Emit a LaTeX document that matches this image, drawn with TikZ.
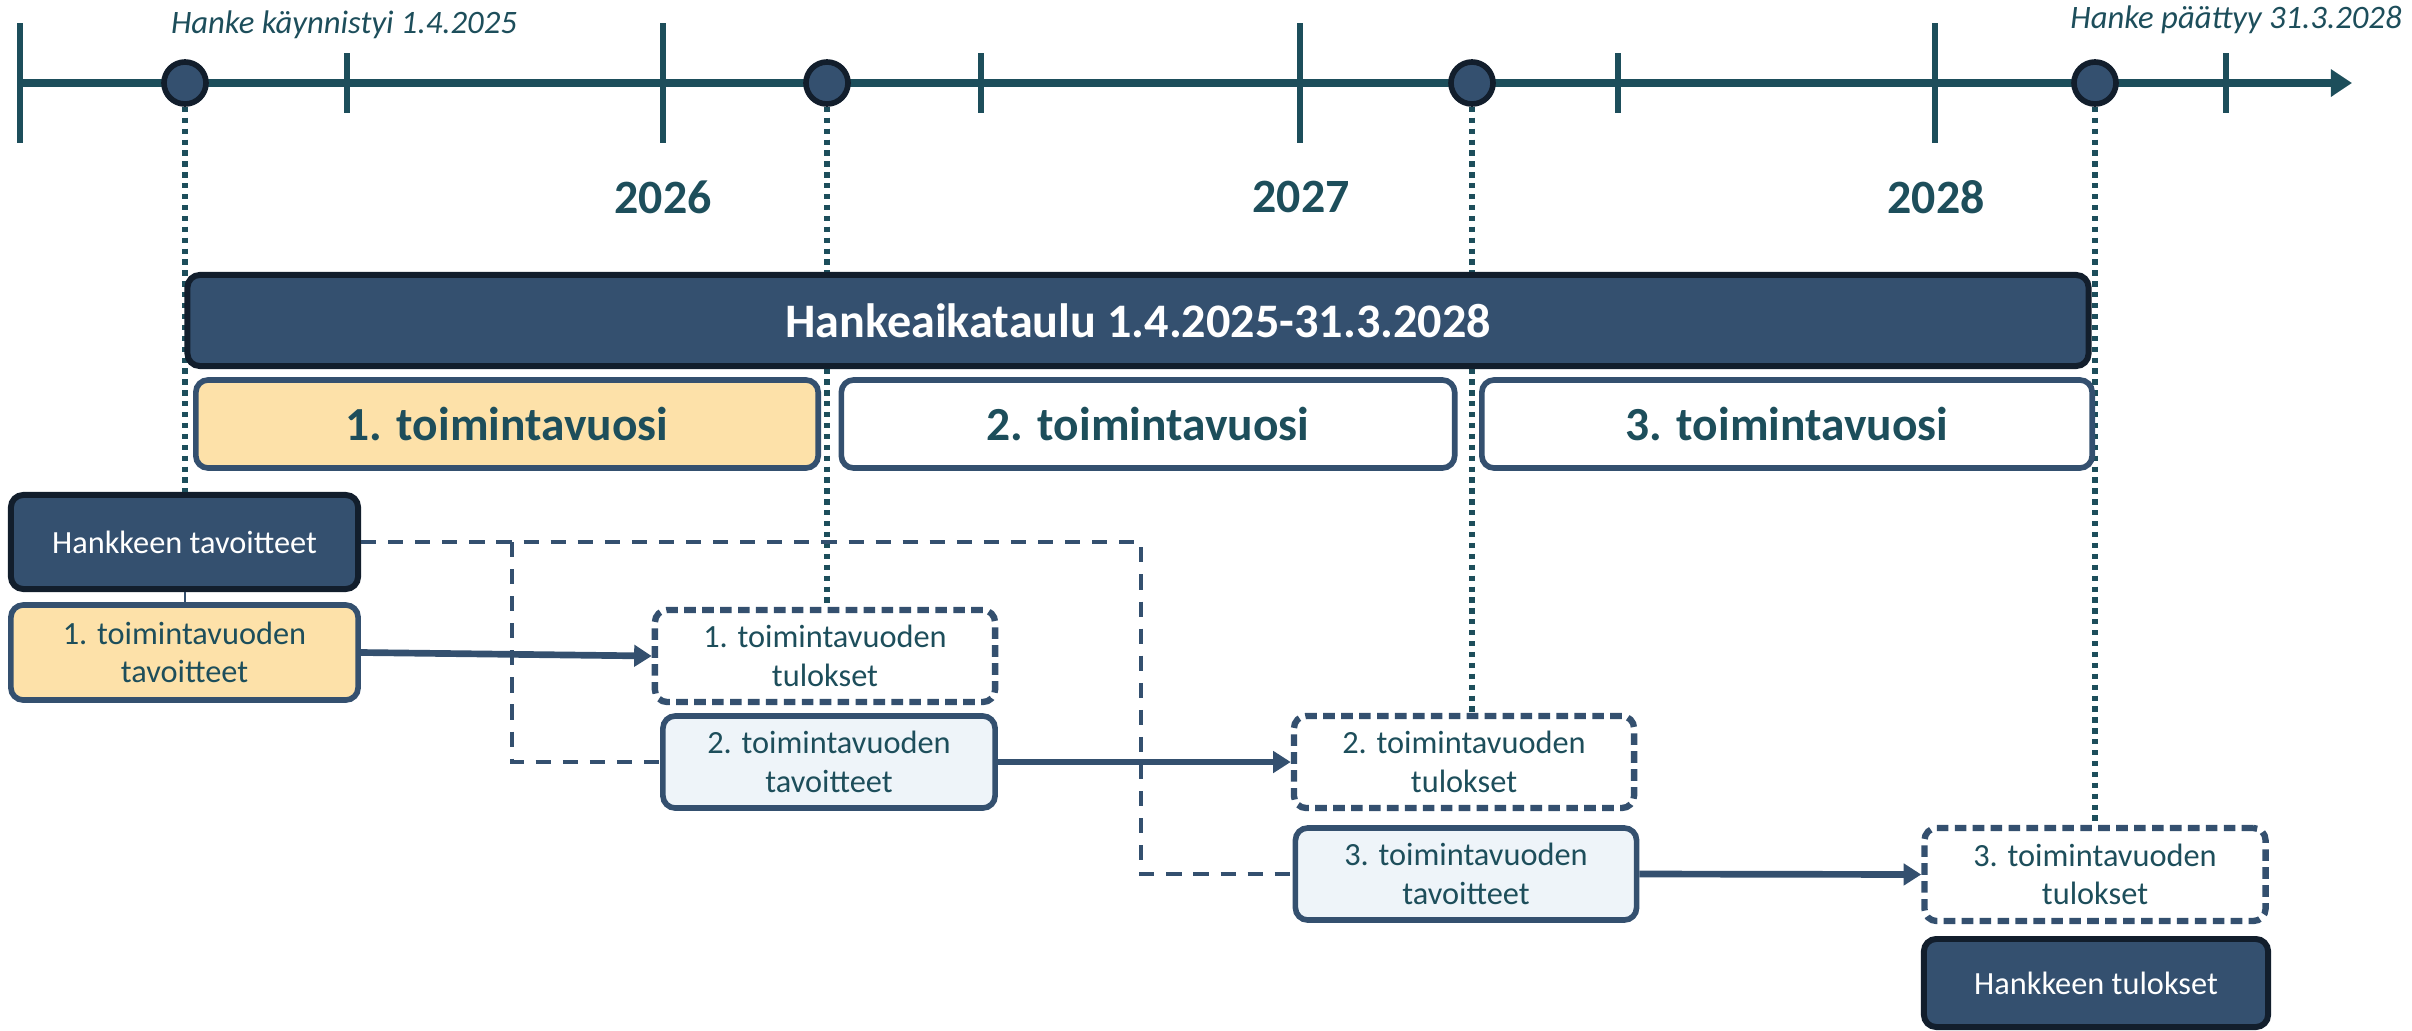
\documentclass[tikz,border=0pt]{standalone}
\usepackage{fontspec}
\setmainfont{Carlito}
\usetikzlibrary{arrows.meta}

\definecolor{tealline}{HTML}{1D4E5B}
\definecolor{navy}{HTML}{34506F}
\definecolor{navyedge}{HTML}{121E2C}
\definecolor{peach}{HTML}{FDE1A9}
\definecolor{paleblue}{HTML}{EEF4F9}

\begin{document}
\begin{tikzpicture}[x=0.01cm, y=-0.01cm]
  \tikzstyle{every node}=[font=\fontsize{9.2}{10.9}\selectfont, text=tealline,
    align=center, inner sep=0pt]
  \tikzstyle{darkbox}=[draw=navyedge, fill=navy, line width=1.7pt,
    rounded corners=3.5pt, text=white]
  \tikzstyle{goalbox}=[draw=navy, line width=1.6pt, rounded corners=3.5pt]
  \tikzstyle{resultbox}=[goalbox, fill=white, line width=1.8pt,
    dash pattern=on 3.3pt off 1.8pt]
  \tikzstyle{yearbox}=[goalbox, minimum height=0.88cm,
    font=\fontsize{13.5}{16}\selectfont\bfseries]
  \tikzstyle{milestone}=[circle, draw=navyedge, fill=navy, line width=1.6pt,
    minimum size=0.42cm]
  \tikzstyle{yeartick}=[draw=tealline, line width=1.5pt]
  \tikzstyle{guideline}=[draw=tealline, line width=1.7pt,
    dash pattern=on 1.5pt off 1.6pt]
  \tikzstyle{goallink}=[draw=navy, line width=1.4pt,
    dash pattern=on 4.3pt off 3.4pt]
  \tikzstyle{flowarrow}=[draw=navy, line width=1.9pt,
    -{Triangle[length=5pt,width=6pt]}]

  \useasboundingbox (0,0) rectangle (2412,1030);

  % aikajana
  \coordinate (start) at (20,83);
  \coordinate (end) at (2352,83);
  \draw[draw=tealline, line width=2.4pt, -{Triangle[length=6pt,width=7.5pt]}]
    (start) -- (end);
  \foreach \x in {20,663,1300,1935}
    \draw[yeartick] (\x,23) -- (\x,143);
  \foreach \x in {347,981,1618,2226}
    \draw[yeartick] (\x,53) -- (\x,113);
  \foreach \x/\n in {185/m0,827/m1,1472/m2,2095/m3}
    \node[milestone] (\n) at (\x,83) {};

  \node[font=\fontsize{9.3}{11}\selectfont\itshape] (alku) at (344,25)
    {Hanke käynnistyi 1.4.2025};
  \node[font=\fontsize{9.3}{11}\selectfont\itshape] (loppu) at (2236,20)
    {Hanke päättyy 31.3.2028};

  \node[font=\fontsize{13.6}{16}\selectfont\bfseries] (v26) at (663,197) {2026};
  \node[font=\fontsize{13.6}{16}\selectfont\bfseries] (v27) at (1301,197) {2027};
  \node[font=\fontsize{13.6}{16}\selectfont\bfseries] (v28) at (1936,197) {2028};

  % tavoitteet ja tulokset
  \node[darkbox, minimum width=3.47cm, minimum height=0.94cm] (tav0)
    at (184.5,542) {Hankkeen tavoitteet};
  \node[goalbox, fill=peach, minimum width=3.47cm, minimum height=0.95cm] (tav1)
    at (184.5,652.5) {1. toimintavuoden\\tavoitteet};
  \node[resultbox, minimum width=3.40cm, minimum height=0.92cm] (tul1)
    at (825,656) {1. toimintavuoden\\tulokset};
  \node[goalbox, fill=paleblue, minimum width=3.32cm, minimum height=0.92cm] (tav2)
    at (829,762) {2. toimintavuoden\\tavoitteet};
  \node[resultbox, minimum width=3.40cm, minimum height=0.92cm] (tul2)
    at (1464,762) {2. toimintavuoden\\tulokset};
  \node[goalbox, fill=paleblue, minimum width=3.41cm, minimum height=0.92cm] (tav3)
    at (1466,874) {3. toimintavuoden\\tavoitteet};
  \node[resultbox, minimum width=3.41cm, minimum height=0.93cm] (tul3)
    at (2095,874.5) {3. toimintavuoden\\tulokset};
  \node[darkbox, minimum width=3.44cm, minimum height=0.88cm] (res)
    at (2096,983) {Hankkeen tulokset};

  % pystyviivat
  \draw[guideline] (m0.south) -- (m0 |- tav0.north);
  \draw[guideline] (m1.south) -- (m1 |- tul1.north);
  \draw[guideline] (m2.south) -- (m2 |- tul2.north);
  \draw[guideline] (m3.south) -- (m3 |- tul3.north);
  \draw[draw=navy, line width=0.7pt] (m0 |- tav0.south) -- (m0 |- tav1.north);

  % aikataulu ja toimintavuodet
  \node[darkbox, minimum width=19cm, minimum height=0.91cm,
    font=\fontsize{13.7}{16}\selectfont\bfseries] (aikataulu)
    at (1138,320.5) {Hankeaikataulu 1.4.2025-31.3.2028};
  \node[yearbox, fill=peach, minimum width=6.22cm] (vuosi1) at (507,424)
    {1. toimintavuosi};
  \node[yearbox, fill=white, minimum width=6.13cm] (vuosi2) at (1148,424)
    {2. toimintavuosi};
  \node[yearbox, fill=white, minimum width=6.10cm] (vuosi3) at (1787,424)
    {3. toimintavuosi};

  % yhteydet
  \coordinate (k1) at (512,0);
  \coordinate (k2) at (1141,0);
  \draw[goallink] (tav0.east) -| (k2 |- tav3.west) -- (tav3.west);
  \draw[goallink] (k1 |- tav0.east) |- (tav2.west);
  \draw[flowarrow] (tav1.east) -- (tul1.west);
  \draw[flowarrow] (tav2.east) -- (tul2.west);
  \draw[flowarrow] (tav3.east) -- (tul3.west);
\end{tikzpicture}
\end{document}
